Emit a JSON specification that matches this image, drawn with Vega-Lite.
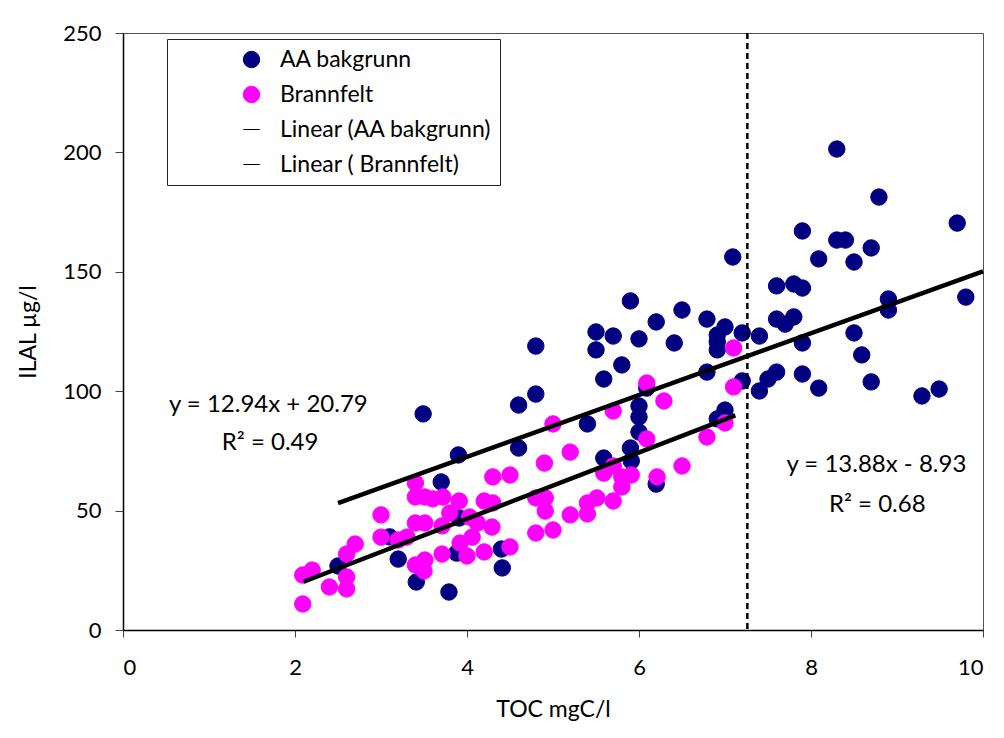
{
  "$schema": "https://vega.github.io/schema/vega-lite/v6.json",
  "description": "ILAL vs TOC scatter with linear trend lines, AA bakgrunn and Brannfelt.",
  "autosize": "none",
  "width": 860,
  "height": 597,
  "padding": {"left": 123, "top": 33, "right": 21, "bottom": 108},
  "config": {
    "background": "white",
    "view": {"stroke": "#555555", "strokeWidth": 1},
    "font": "Lato",
    "axis": {
      "grid": false,
      "domainColor": "black",
      "domainWidth": 1.5,
      "tickColor": "#444444",
      "labelFont": "Lato",
      "labelFontSize": 22,
      "labelColor": "black",
      "titleFont": "Lato",
      "titleFontSize": 23,
      "titleFontWeight": "normal",
      "titleColor": "black"
    }
  },
  "datasets": {
    "points": [
      {"toc": 2.50, "ilal": 26.8, "series": "AA bakgrunn"},
      {"toc": 3.10, "ilal": 39.0, "series": "AA bakgrunn"},
      {"toc": 3.20, "ilal": 29.7, "series": "AA bakgrunn"},
      {"toc": 3.41, "ilal": 20.1, "series": "AA bakgrunn"},
      {"toc": 3.49, "ilal": 90.5, "series": "AA bakgrunn"},
      {"toc": 3.70, "ilal": 62.0, "series": "AA bakgrunn"},
      {"toc": 3.79, "ilal": 15.9, "series": "AA bakgrunn"},
      {"toc": 3.90, "ilal": 73.3, "series": "AA bakgrunn"},
      {"toc": 3.91, "ilal": 46.9, "series": "AA bakgrunn"},
      {"toc": 3.88, "ilal": 32.2, "series": "AA bakgrunn"},
      {"toc": 4.40, "ilal": 33.9, "series": "AA bakgrunn"},
      {"toc": 4.41, "ilal": 26.0, "series": "AA bakgrunn"},
      {"toc": 4.60, "ilal": 76.2, "series": "AA bakgrunn"},
      {"toc": 4.60, "ilal": 94.2, "series": "AA bakgrunn"},
      {"toc": 4.80, "ilal": 118.9, "series": "AA bakgrunn"},
      {"toc": 4.80, "ilal": 98.8, "series": "AA bakgrunn"},
      {"toc": 5.40, "ilal": 86.3, "series": "AA bakgrunn"},
      {"toc": 5.50, "ilal": 124.8, "series": "AA bakgrunn"},
      {"toc": 5.50, "ilal": 117.3, "series": "AA bakgrunn"},
      {"toc": 5.59, "ilal": 105.1, "series": "AA bakgrunn"},
      {"toc": 5.59, "ilal": 72.0, "series": "AA bakgrunn"},
      {"toc": 5.70, "ilal": 123.1, "series": "AA bakgrunn"},
      {"toc": 5.80, "ilal": 111.0, "series": "AA bakgrunn"},
      {"toc": 5.90, "ilal": 137.8, "series": "AA bakgrunn"},
      {"toc": 5.90, "ilal": 76.2, "series": "AA bakgrunn"},
      {"toc": 5.91, "ilal": 70.8, "series": "AA bakgrunn"},
      {"toc": 6.00, "ilal": 121.9, "series": "AA bakgrunn"},
      {"toc": 6.00, "ilal": 93.8, "series": "AA bakgrunn"},
      {"toc": 6.00, "ilal": 89.2, "series": "AA bakgrunn"},
      {"toc": 6.00, "ilal": 82.9, "series": "AA bakgrunn"},
      {"toc": 6.09, "ilal": 101.3, "series": "AA bakgrunn"},
      {"toc": 6.20, "ilal": 129.0, "series": "AA bakgrunn"},
      {"toc": 6.20, "ilal": 61.1, "series": "AA bakgrunn"},
      {"toc": 6.41, "ilal": 120.2, "series": "AA bakgrunn"},
      {"toc": 6.50, "ilal": 134.0, "series": "AA bakgrunn"},
      {"toc": 6.79, "ilal": 130.2, "series": "AA bakgrunn"},
      {"toc": 6.79, "ilal": 108.0, "series": "AA bakgrunn"},
      {"toc": 6.91, "ilal": 123.5, "series": "AA bakgrunn"},
      {"toc": 6.91, "ilal": 120.6, "series": "AA bakgrunn"},
      {"toc": 6.91, "ilal": 117.3, "series": "AA bakgrunn"},
      {"toc": 6.91, "ilal": 88.4, "series": "AA bakgrunn"},
      {"toc": 7.00, "ilal": 126.9, "series": "AA bakgrunn"},
      {"toc": 7.00, "ilal": 92.1, "series": "AA bakgrunn"},
      {"toc": 7.09, "ilal": 156.2, "series": "AA bakgrunn"},
      {"toc": 7.20, "ilal": 124.4, "series": "AA bakgrunn"},
      {"toc": 7.20, "ilal": 104.3, "series": "AA bakgrunn"},
      {"toc": 7.40, "ilal": 123.1, "series": "AA bakgrunn"},
      {"toc": 7.40, "ilal": 100.1, "series": "AA bakgrunn"},
      {"toc": 7.50, "ilal": 105.1, "series": "AA bakgrunn"},
      {"toc": 7.60, "ilal": 144.1, "series": "AA bakgrunn"},
      {"toc": 7.60, "ilal": 130.2, "series": "AA bakgrunn"},
      {"toc": 7.60, "ilal": 108.0, "series": "AA bakgrunn"},
      {"toc": 7.70, "ilal": 128.1, "series": "AA bakgrunn"},
      {"toc": 7.80, "ilal": 144.9, "series": "AA bakgrunn"},
      {"toc": 7.80, "ilal": 131.1, "series": "AA bakgrunn"},
      {"toc": 7.90, "ilal": 167.1, "series": "AA bakgrunn"},
      {"toc": 7.90, "ilal": 143.2, "series": "AA bakgrunn"},
      {"toc": 7.90, "ilal": 120.2, "series": "AA bakgrunn"},
      {"toc": 7.90, "ilal": 107.2, "series": "AA bakgrunn"},
      {"toc": 8.09, "ilal": 155.4, "series": "AA bakgrunn"},
      {"toc": 8.09, "ilal": 101.3, "series": "AA bakgrunn"},
      {"toc": 8.30, "ilal": 201.4, "series": "AA bakgrunn"},
      {"toc": 8.30, "ilal": 163.3, "series": "AA bakgrunn"},
      {"toc": 8.40, "ilal": 163.3, "series": "AA bakgrunn"},
      {"toc": 8.50, "ilal": 154.1, "series": "AA bakgrunn"},
      {"toc": 8.50, "ilal": 124.4, "series": "AA bakgrunn"},
      {"toc": 8.59, "ilal": 115.2, "series": "AA bakgrunn"},
      {"toc": 8.70, "ilal": 160.0, "series": "AA bakgrunn"},
      {"toc": 8.70, "ilal": 103.9, "series": "AA bakgrunn"},
      {"toc": 8.79, "ilal": 181.3, "series": "AA bakgrunn"},
      {"toc": 8.90, "ilal": 138.6, "series": "AA bakgrunn"},
      {"toc": 8.90, "ilal": 134.0, "series": "AA bakgrunn"},
      {"toc": 9.29, "ilal": 98.0, "series": "AA bakgrunn"},
      {"toc": 9.49, "ilal": 100.9, "series": "AA bakgrunn"},
      {"toc": 9.70, "ilal": 170.4, "series": "AA bakgrunn"},
      {"toc": 9.80, "ilal": 139.4, "series": "AA bakgrunn"},
      {"toc": 2.09, "ilal": 23.0, "series": "\u00a0Brannfelt"},
      {"toc": 2.20, "ilal": 25.1, "series": "\u00a0Brannfelt"},
      {"toc": 2.09, "ilal": 10.9, "series": "\u00a0Brannfelt"},
      {"toc": 2.40, "ilal": 18.0, "series": "\u00a0Brannfelt"},
      {"toc": 2.60, "ilal": 22.2, "series": "\u00a0Brannfelt"},
      {"toc": 2.60, "ilal": 17.2, "series": "\u00a0Brannfelt"},
      {"toc": 2.60, "ilal": 31.8, "series": "\u00a0Brannfelt"},
      {"toc": 2.70, "ilal": 36.0, "series": "\u00a0Brannfelt"},
      {"toc": 3.00, "ilal": 48.2, "series": "\u00a0Brannfelt"},
      {"toc": 3.00, "ilal": 38.9, "series": "\u00a0Brannfelt"},
      {"toc": 3.20, "ilal": 37.7, "series": "\u00a0Brannfelt"},
      {"toc": 3.30, "ilal": 38.9, "series": "\u00a0Brannfelt"},
      {"toc": 3.40, "ilal": 61.6, "series": "\u00a0Brannfelt"},
      {"toc": 3.40, "ilal": 55.7, "series": "\u00a0Brannfelt"},
      {"toc": 3.51, "ilal": 55.7, "series": "\u00a0Brannfelt"},
      {"toc": 3.60, "ilal": 54.9, "series": "\u00a0Brannfelt"},
      {"toc": 3.72, "ilal": 55.7, "series": "\u00a0Brannfelt"},
      {"toc": 3.91, "ilal": 54.0, "series": "\u00a0Brannfelt"},
      {"toc": 3.40, "ilal": 44.8, "series": "\u00a0Brannfelt"},
      {"toc": 3.51, "ilal": 44.8, "series": "\u00a0Brannfelt"},
      {"toc": 3.71, "ilal": 43.6, "series": "\u00a0Brannfelt"},
      {"toc": 3.80, "ilal": 49.0, "series": "\u00a0Brannfelt"},
      {"toc": 3.40, "ilal": 27.2, "series": "\u00a0Brannfelt"},
      {"toc": 3.51, "ilal": 29.3, "series": "\u00a0Brannfelt"},
      {"toc": 3.50, "ilal": 24.7, "series": "\u00a0Brannfelt"},
      {"toc": 3.71, "ilal": 31.8, "series": "\u00a0Brannfelt"},
      {"toc": 3.92, "ilal": 36.4, "series": "\u00a0Brannfelt"},
      {"toc": 4.00, "ilal": 31.0, "series": "\u00a0Brannfelt"},
      {"toc": 4.03, "ilal": 47.3, "series": "\u00a0Brannfelt"},
      {"toc": 4.12, "ilal": 44.8, "series": "\u00a0Brannfelt"},
      {"toc": 4.06, "ilal": 38.9, "series": "\u00a0Brannfelt"},
      {"toc": 4.29, "ilal": 43.1, "series": "\u00a0Brannfelt"},
      {"toc": 4.20, "ilal": 32.7, "series": "\u00a0Brannfelt"},
      {"toc": 4.50, "ilal": 34.8, "series": "\u00a0Brannfelt"},
      {"toc": 4.20, "ilal": 54.0, "series": "\u00a0Brannfelt"},
      {"toc": 4.30, "ilal": 53.2, "series": "\u00a0Brannfelt"},
      {"toc": 4.30, "ilal": 64.1, "series": "\u00a0Brannfelt"},
      {"toc": 4.50, "ilal": 64.9, "series": "\u00a0Brannfelt"},
      {"toc": 4.80, "ilal": 40.6, "series": "\u00a0Brannfelt"},
      {"toc": 5.00, "ilal": 41.9, "series": "\u00a0Brannfelt"},
      {"toc": 4.80, "ilal": 55.3, "series": "\u00a0Brannfelt"},
      {"toc": 4.91, "ilal": 55.3, "series": "\u00a0Brannfelt"},
      {"toc": 4.91, "ilal": 49.8, "series": "\u00a0Brannfelt"},
      {"toc": 4.90, "ilal": 69.9, "series": "\u00a0Brannfelt"},
      {"toc": 5.20, "ilal": 74.5, "series": "\u00a0Brannfelt"},
      {"toc": 5.00, "ilal": 86.3, "series": "\u00a0Brannfelt"},
      {"toc": 5.20, "ilal": 48.2, "series": "\u00a0Brannfelt"},
      {"toc": 5.40, "ilal": 48.6, "series": "\u00a0Brannfelt"},
      {"toc": 5.40, "ilal": 53.2, "series": "\u00a0Brannfelt"},
      {"toc": 5.51, "ilal": 55.3, "series": "\u00a0Brannfelt"},
      {"toc": 5.70, "ilal": 54.0, "series": "\u00a0Brannfelt"},
      {"toc": 5.59, "ilal": 65.7, "series": "\u00a0Brannfelt"},
      {"toc": 5.70, "ilal": 68.7, "series": "\u00a0Brannfelt"},
      {"toc": 5.80, "ilal": 64.1, "series": "\u00a0Brannfelt"},
      {"toc": 5.80, "ilal": 59.9, "series": "\u00a0Brannfelt"},
      {"toc": 5.91, "ilal": 64.9, "series": "\u00a0Brannfelt"},
      {"toc": 5.70, "ilal": 91.7, "series": "\u00a0Brannfelt"},
      {"toc": 6.09, "ilal": 103.4, "series": "\u00a0Brannfelt"},
      {"toc": 6.09, "ilal": 80.0, "series": "\u00a0Brannfelt"},
      {"toc": 6.29, "ilal": 95.9, "series": "\u00a0Brannfelt"},
      {"toc": 6.21, "ilal": 64.1, "series": "\u00a0Brannfelt"},
      {"toc": 6.50, "ilal": 68.7, "series": "\u00a0Brannfelt"},
      {"toc": 6.79, "ilal": 80.8, "series": "\u00a0Brannfelt"},
      {"toc": 7.00, "ilal": 86.7, "series": "\u00a0Brannfelt"},
      {"toc": 7.10, "ilal": 118.1, "series": "\u00a0Brannfelt"},
      {"toc": 7.10, "ilal": 101.8, "series": "\u00a0Brannfelt"}
    ],
    "trend": [
      {"series": "Linear (AA bakgrunn)", "toc": 2.5, "ilal": 53.1},
      {"series": "Linear (AA bakgrunn)", "toc": 10.0, "ilal": 150.2},
      {"series": "Linear ( Brannfelt)", "toc": 2.1, "ilal": 20.2},
      {"series": "Linear ( Brannfelt)", "toc": 7.12, "ilal": 89.9}
    ],
    "notes": [
      {"toc": 1.69, "ilal": 94.2, "label": "y = 12.94x + 20.79"},
      {"toc": 1.71, "ilal": 78.3, "label": "R² = 0.49"},
      {"toc": 8.76, "ilal": 69.1, "label": "y = 13.88x - 8.93"},
      {"toc": 8.77, "ilal": 52.3, "label": "R² = 0.68"}
    ]
  },
  "layer": [
    {
      "data": {"name": "points"},
      "mark": {"type": "point", "filled": false, "opacity": 1},
      "encoding": {
        "x": {
          "field": "toc", "type": "quantitative", "title": "TOC mgC/l",
          "scale": {"domain": [0, 10], "nice": false},
          "axis": {"values": [0, 2, 4, 6, 8, 10], "format": "d", "tickSize": 7, "labelPadding": 20, "titlePadding": 20}
        },
        "y": {
          "field": "ilal", "type": "quantitative", "title": "ILAL µg/l",
          "scale": {"domain": [0, 250], "nice": false},
          "axis": {"values": [0, 50, 100, 150, 200, 250], "format": "d", "tickSize": 8, "labelPadding": 14, "titlePadding": 22}
        },
        "color": {
          "field": "series", "type": "nominal",
          "scale": {
            "domain": ["AA bakgrunn", "\u00a0Brannfelt", "Linear (AA bakgrunn)", "Linear ( Brannfelt)"],
            "range": ["#000080", "#FF00FF", "black", "black"]
          },
          "legend": {
            "title": null,
            "orient": "none",
            "legendX": 44,
            "legendY": 6,
            "padding": 8,
            "fillColor": "white",
            "strokeColor": "#222222",
            "labelFont": "Lato",
            "labelFontSize": 23,
            "labelColor": "black",
            "labelLimit": 400,
            "symbolOffset": 65,
            "labelOffset": 17,
            "rowPadding": 10,
            "clipHeight": 25,
            "symbolOpacity": 1,
            "symbolStrokeWidth": 4
          }
        },
        "fill": {
          "field": "series", "type": "nominal",
          "scale": {
            "domain": ["AA bakgrunn", "\u00a0Brannfelt", "Linear (AA bakgrunn)", "Linear ( Brannfelt)"],
            "range": ["#000080", "#FF00FF", "black", "black"]
          }
        },
        "shape": {
          "field": "series", "type": "nominal",
          "scale": {
            "domain": ["AA bakgrunn", "\u00a0Brannfelt", "Linear (AA bakgrunn)", "Linear ( Brannfelt)"],
            "range": ["circle", "circle", "stroke", "stroke"]
          }
        },
        "size": {
          "field": "series", "type": "nominal",
          "scale": {
            "domain": ["AA bakgrunn", "\u00a0Brannfelt", "Linear (AA bakgrunn)", "Linear ( Brannfelt)"],
            "range": [270, 270, 2500, 2500]
          }
        },
        "strokeWidth": {
          "field": "series", "type": "nominal",
          "scale": {
            "domain": ["AA bakgrunn", "\u00a0Brannfelt", "Linear (AA bakgrunn)", "Linear ( Brannfelt)"],
            "range": [1, 1, 4.5, 4.5]
          }
        }
      }
    },
    {
      "data": {"name": "trend"},
      "mark": {"type": "line", "color": "black", "strokeWidth": 4.5},
      "encoding": {
        "x": {"field": "toc", "type": "quantitative"},
        "y": {"field": "ilal", "type": "quantitative"},
        "detail": {"field": "series"}
      }
    },
    {
      "data": {"name": "notes"},
      "mark": {"type": "text", "font": "Lato", "fontSize": 24, "color": "black", "align": "center", "baseline": "middle"},
      "encoding": {
        "x": {"field": "toc", "type": "quantitative"},
        "y": {"field": "ilal", "type": "quantitative"},
        "text": {"field": "label"}
      }
    },
    {
      "data": {"values": [{"toc": 7.26}]},
      "mark": {"type": "rule", "stroke": "black", "strokeWidth": 2.5, "strokeDash": [6, 4]},
      "encoding": {
        "x": {"field": "toc", "type": "quantitative"}
      }
    }
  ]
}
